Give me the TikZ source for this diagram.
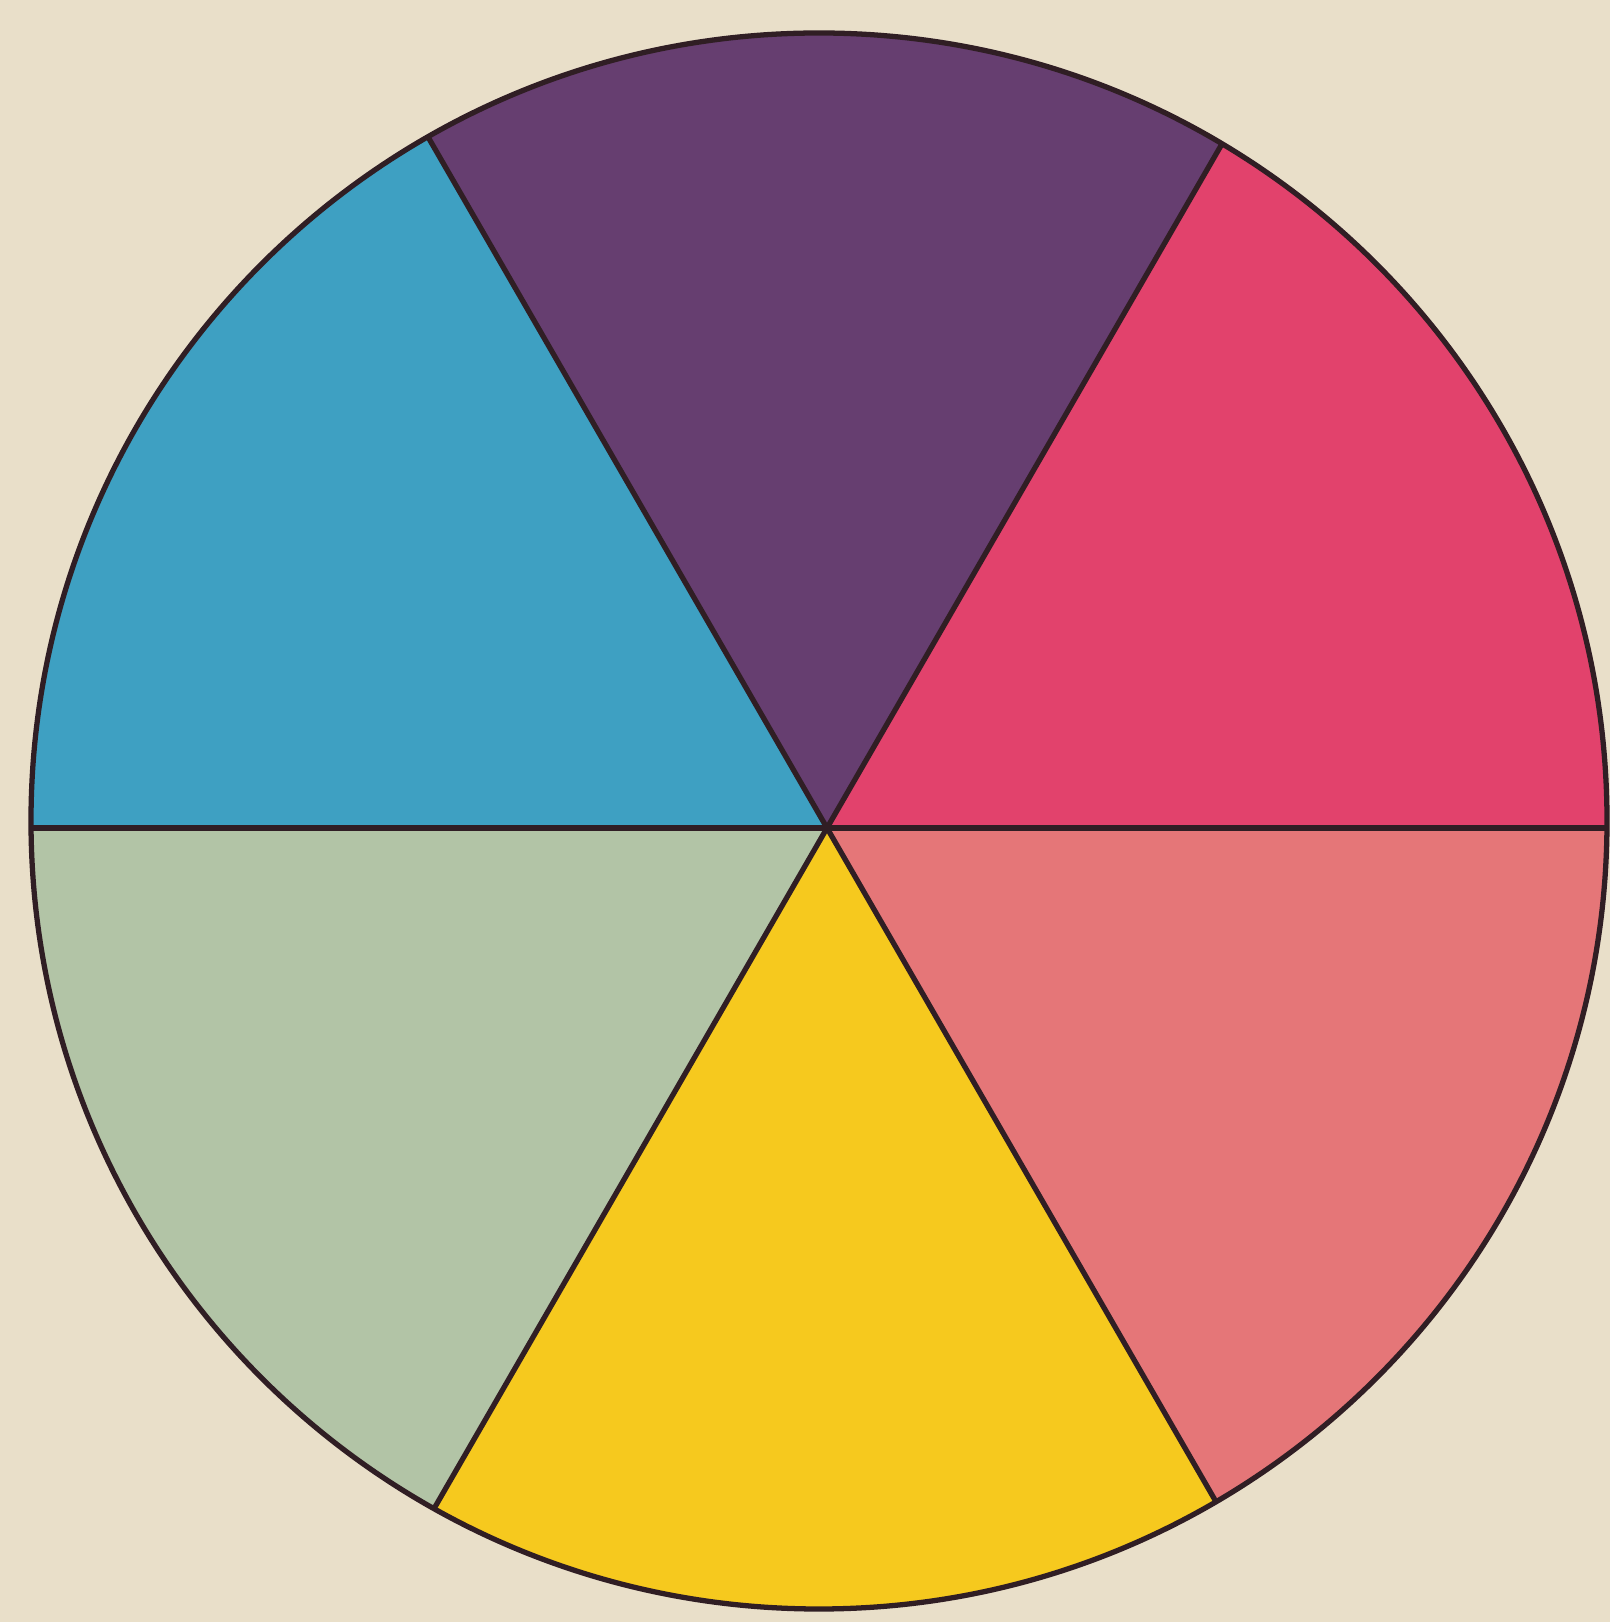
\documentclass[tikz,border=0pt]{standalone}
\usepackage{xcolor}
\definecolor{paper}{RGB}{233,223,201}
\definecolor{rose}{RGB}{226,66,108}
\definecolor{plum}{RGB}{102,62,112}
\definecolor{azure}{RGB}{62,160,194}
\definecolor{sage}{RGB}{178,196,166}
\definecolor{gold}{RGB}{246,201,30}
\definecolor{salmon}{RGB}{229,118,120}
\definecolor{ink}{RGB}{48,30,36}
\usepackage{tikz}
\tikzset{
  spoke/.style={draw=ink, line width=1.5pt},
  rim/.style={draw=ink, line width=1.5pt}
}

\begin{document}
\begin{tikzpicture}

  %% Page and proportions
  \useasboundingbox[fill=paper] (0,0) rectangle (16.10,16.22);
  \coordinate (disc) at (8.19,8.01);
  \coordinate (hub) at (8.27,7.94);

  %% Six coloured sectors and spokes, clipped to the disc
  \begin{scope}
    \clip (disc) circle[radius=7.88];
    \foreach \a/\col in {0/rose, 60/plum, 120/azure, 180/sage, 240/gold, 300/salmon}
      \fill[\col] (hub) -- ++(\a:10) arc[start angle=\a, end angle=\a+60, radius=10] -- cycle;
    \foreach \a in {0,60,...,300}
      \draw[spoke] (hub) -- ++(\a:10);
  \end{scope}

  %% Rim
  \draw[rim] (disc) circle[radius=7.88];

\end{tikzpicture}
\end{document}
